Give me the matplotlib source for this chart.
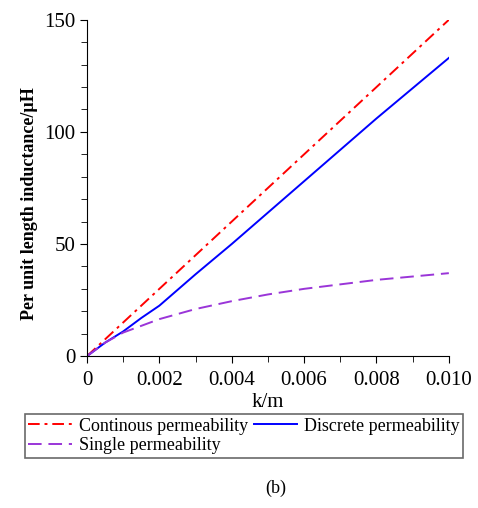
import numpy as np
import matplotlib
matplotlib.use('Agg')
import matplotlib.pyplot as plt
from matplotlib.ticker import MultipleLocator

plt.rcParams['font.family'] = ['Liberation Serif', 'DejaVu Serif']

k = [0, 0.0005, 0.001, 0.0015, 0.002, 0.003, 0.004, 0.005, 0.006, 0.007, 0.008, 0.009, 0.010]
continuous = [0, 7.5, 15, 22.5, 30, 45, 60, 75, 90, 105, 120, 135, 150]
discrete = [0, 6, 11, 17, 22.5, 36.5, 50, 64, 78, 92, 106, 119.5, 133]
single = [0, 6, 10.5, 13.5, 16.5, 21, 24.5, 27.5, 30, 32, 34, 35.5, 37]

fig = plt.figure(figsize=(4.78, 5.08), dpi=100)
ax = fig.add_axes([0.182, 0.299, 0.757, 0.662])

l1, = ax.plot(k, continuous, color='red', ls=(0, (6, 2.5, 1.5, 2.5)), lw=1.4)
l2, = ax.plot(k, discrete, color='blue', lw=1.4)
l3, = ax.plot(k, single, color='#9a35d8', ls=(0, (7, 3.5)), lw=1.4)

ax.set_xlim(0, 0.010)
ax.set_ylim(0, 150)
ax.spines['top'].set_visible(False)
ax.spines['right'].set_visible(False)
ax.set_xticks([0, 0.002, 0.004, 0.006, 0.008, 0.010])
ax.set_xticklabels(['0', '0.002', '0.004', '0.006', '0.008', '0.010'])
ax.set_yticks([0, 50, 100, 150])
ax.xaxis.set_minor_locator(MultipleLocator(0.001))
ax.yaxis.set_minor_locator(MultipleLocator(10))
ax.tick_params(which='both', direction='out', labelsize=15)
ax.tick_params(which='major', length=5)
ax.tick_params(which='minor', length=4)
ax.tick_params(axis='x', pad=6)
ax.set_xlabel('k/m', fontsize=15, labelpad=2)
ax.set_ylabel('Per unit length inductance/µH', fontsize=13, fontweight='bold')
ax.yaxis.set_label_coords(-0.135, 0.455)

leg = fig.legend([l1, l3, l2],
                 ['Continous permeability', 'Single permeability', 'Discrete permeability'],
                 ncol=2, loc='upper left', bbox_to_anchor=(0.052, 0.185),
                 fontsize=13, frameon=True, fancybox=False, edgecolor='#444444',
                 borderpad=0.2, labelspacing=0.15, handlelength=2.4, handletextpad=0.4,
                 columnspacing=0.3, borderaxespad=0)
leg.get_frame().set_linewidth(1.2)

fig.text(0.577, 0.03, '(b)', fontsize=13, ha='center')

fig.savefig('out.png', dpi=100)
